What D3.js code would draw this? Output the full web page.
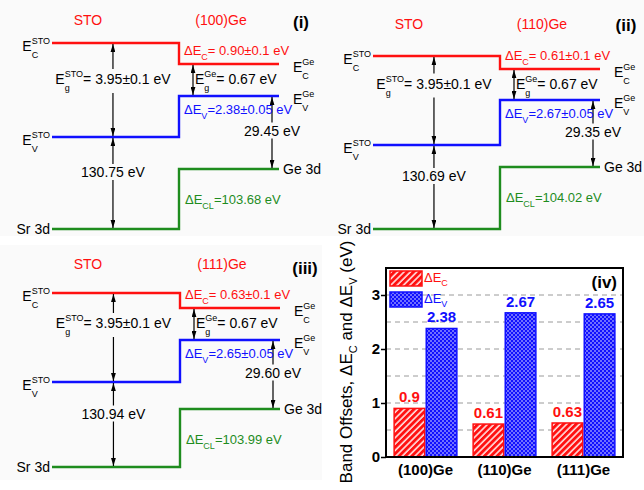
<!DOCTYPE html>
<html>
<head>
<meta charset="utf-8">
<script src="https://cdn.jsdelivr.net/npm/d3@7"></script>
<style>
  body { margin: 0; background: #fff; }
  svg { display: block; font-family: "Liberation Sans", Arial, Helvetica, sans-serif; }
  svg text { white-space: pre; }
</style>
</head>
<body>
<div id="chart"></div>
<script>
// ---- data ----
const substrates = ['(100)Ge', '(110)Ge', '(111)Ge'];
const panelTags = ['(i)', '(ii)', '(iii)'];
const deltaEc = [0.90, 0.61, 0.63];
const deltaEv = [2.38, 2.67, 2.65];
const deltaEcErr = ['0.1', '0.1', '0.1'];
const deltaEvErr = ['0.05', '0.05', '0.05'];
const gapSTO = 3.95;
const gapSTOErr = '0.1';
const gapGe = 0.67;
const srCoreToVbm = [130.75, 130.69, 130.94];
const geVbmToCore = [29.45, 29.35, 29.60];
const deltaEcl = [103.68, 104.02, 103.99];
const yTicks = [0, 1, 2, 3];

// ---- layout (schematic diagrams are not to scale) ----
const W = 644, H = 490;
const RED = '#ff1010', BLUE = '#1010ff', GREEN = '#1e8c1e', PANEL_BG = '#fafafa';
const panels = [
    { bg: [0, 0, 322, 236], left: 52, step: 179, right: 279, levels: [43, 64, 96, 137, 169, 229], titleY: 25, tag: [301, 28] },
    { bg: [322, 0, 322, 236], left: 373, step: 500, right: 600, levels: [56, 69, 100, 145, 167, 229], titleY: 29, tag: [626, 31] },
    { bg: [0, 245, 322, 235], left: 52, step: 180, right: 280, levels: [293, 308, 340, 382, 409, 467], titleY: 269, tag: [305, 274] }
];

const svg = d3.select('#chart').append('svg')
    .attr('width', W)
    .attr('height', H);

const defs = svg.append('defs');
defs.append('marker')
    .attr('id', 'arrow')
    .attr('viewBox', '0 0 10 6')
    .attr('refX', 10).attr('refY', 3)
    .attr('markerUnits', 'userSpaceOnUse')
    .attr('markerWidth', 8).attr('markerHeight', 5)
    .attr('orient', 'auto-start-reverse')
    .append('path').attr('d', 'M0,0L10,3L0,6Z').attr('fill', '#000');

const hatch = defs.append('pattern')
    .attr('id', 'hatch')
    .attr('patternUnits', 'userSpaceOnUse')
    .attr('width', 4.5).attr('height', 4.5)
    .attr('patternTransform', 'rotate(45)');
hatch.append('rect').attr('width', 4.5).attr('height', 4.5).attr('fill', RED);
hatch.append('line').attr('x1', 1).attr('y1', 0).attr('x2', 1).attr('y2', 4.5)
    .attr('stroke', '#fff').attr('stroke-width', 1.4);

const dots = defs.append('pattern')
    .attr('id', 'dots')
    .attr('patternUnits', 'userSpaceOnUse')
    .attr('width', 4).attr('height', 4);
dots.append('rect').attr('width', 4).attr('height', 4).attr('fill', BLUE);
[[1, 1], [3, 3]].forEach(([cx, cy]) => {
    dots.append('circle').attr('cx', cx).attr('cy', cy).attr('r', 0.75).attr('fill', '#fff');
});

// text with sub/superscripts laid out piece by piece
function richText(parent, x, y, parts, opt) {
    const size = opt.size;
    const small = opt.small || Math.round(size * 0.66);
    const g = parent.append('g')
        .attr('fill', opt.color || '#000')
        .style('font-size', size + 'px')
        .style('font-weight', opt.bold ? 'bold' : 'normal');
    let cx = 0;
    parts.forEach(p => {
        if (typeof p === 'string') {
            const t = g.append('text').attr('x', cx).attr('y', 0).text(p);
            cx += t.node().getComputedTextLength();
        } else {
            let w = 0;
            if (p.sub) {
                const t = g.append('text').attr('x', cx).attr('y', opt.subDy || size * 0.45)
                    .style('font-size', small + 'px').text(p.sub);
                w = Math.max(w, t.node().getComputedTextLength());
            }
            if (p.sup) {
                const t = g.append('text').attr('x', cx).attr('y', opt.supDy || -size * 0.5)
                    .style('font-size', small + 'px').text(p.sup);
                w = Math.max(w, t.node().getComputedTextLength());
            }
            cx += w;
        }
    });
    const shift = opt.anchor === 'middle' ? -cx / 2 : opt.anchor === 'end' ? -cx : 0;
    g.attr('transform', `translate(${x + shift},${y})`);
    if (opt.knockout) {
        const b = g.node().getBBox();
        g.insert('rect', ':first-child')
            .attr('x', b.x - 1).attr('y', b.y)
            .attr('width', b.width + 2).attr('height', b.height)
            .attr('fill', opt.knockout);
    }
    return g;
}

// ---- band diagrams (i)-(iii) ----
panels.forEach((p, i) => {
    const ev = deltaEv[i];
    // energies relative to STO valence band max
    const energies = [gapSTO, ev + gapGe, ev, 0, ev - geVbmToCore[i], -srCoreToVbm[i]];
    const y = d3.scaleLinear().domain(energies).range(p.levels);
    const [eCsto, eCge, eVge, eVsto, eGe3d, eSr3d] = energies;

    const g = svg.append('g');
    g.append('rect')
        .attr('x', p.bg[0]).attr('y', p.bg[1])
        .attr('width', p.bg[2]).attr('height', p.bg[3])
        .attr('fill', PANEL_BG);

    const step = (a, b) => `M${p.left},${y(a)}H${p.step}V${y(b)}H${p.right}`;
    [[eCsto, eCge, RED], [eVsto, eVge, BLUE], [eSr3d, eGe3d, GREEN]].forEach(([a, b, c]) => {
        g.append('path').attr('d', step(a, b))
            .attr('fill', 'none').attr('stroke', c).attr('stroke-width', 2.4);
    });

    const xSto = p.left + 0.48 * (p.step - p.left);
    const xGap = p.step + 14;
    const xCore = p.right - 7;
    const arrow = (x, a, b) => g.append('line')
        .attr('x1', x).attr('x2', x)
        .attr('y1', y(a) + 1).attr('y2', y(b) - 1)
        .attr('stroke', '#000').attr('stroke-width', 1.2)
        .attr('marker-start', 'url(#arrow)').attr('marker-end', 'url(#arrow)');
    arrow(xSto, eCsto, eVsto);
    arrow(xSto, eVsto, eSr3d);
    arrow(xGap, eCge, eVge);
    arrow(xCore, eVge, eGe3d);

    // headings
    g.append('text').attr('x', p.left + 36).attr('y', p.titleY)
        .attr('text-anchor', 'middle').attr('fill', RED).style('font-size', '14px').text('STO');
    g.append('text').attr('x', p.step + 42).attr('y', p.titleY)
        .attr('text-anchor', 'middle').attr('fill', RED).style('font-size', '14px').text(substrates[i]);
    g.append('text').attr('x', p.tag[0]).attr('y', p.tag[1])
        .attr('text-anchor', 'middle').style('font-size', '17px').style('font-weight', 'bold')
        .text(panelTags[i]);

    // level names
    const lbl = { size: 14, small: 9, subDy: 7, supDy: -7 };
    richText(g, p.left - 2, y(eCsto) + 8, ['E', { sub: 'C', sup: 'STO' }], { ...lbl, anchor: 'end' });
    richText(g, p.left - 2, y(eVsto) + 8, ['E', { sub: 'V', sup: 'STO' }], { ...lbl, anchor: 'end' });
    richText(g, p.left - 2, y(eSr3d) + 5, ['Sr 3d'], { ...lbl, anchor: 'end' });
    richText(g, p.right + 14, y(eCge) + 8, ['E', { sub: 'C', sup: 'Ge' }], lbl);
    richText(g, p.right + 14, y(eVge) + 8, ['E', { sub: 'V', sup: 'Ge' }], lbl);
    richText(g, p.right + 4, y(eGe3d) + 5, ['Ge 3d'], lbl);

    // gaps and offsets
    const gapMid = (y(eCge) + y(eVge)) / 2 + 4;
    richText(g, xSto, gapMid, ['E', { sub: 'g', sup: 'STO' }, `= ${gapSTO.toFixed(2)}±${gapSTOErr} eV`],
        { ...lbl, anchor: 'middle', knockout: PANEL_BG });
    richText(g, xGap + 2, gapMid, ['E', { sub: 'g', sup: 'Ge' }, `= ${gapGe.toFixed(2)} eV`], lbl);
    richText(g, p.step + 5, y(eCge) - 9, ['ΔE', { sub: 'C' }, `= ${deltaEc[i].toFixed(2)}±${deltaEcErr[i]} eV`],
        { size: 13, small: 9, subDy: 5, color: RED });
    richText(g, p.step + 5, y(eVge) + 18, ['ΔE', { sub: 'V' }, `=${ev.toFixed(2)}±${deltaEvErr[i]} eV`],
        { size: 13, small: 9, subDy: 5, color: BLUE });
    richText(g, xCore, (y(eVge) + y(eGe3d)) / 2 + 3, [`${geVbmToCore[i].toFixed(2)} eV`],
        { ...lbl, anchor: 'middle', knockout: PANEL_BG });
    richText(g, xSto, (y(eVsto) + y(eSr3d)) / 2 - 6, [`${srCoreToVbm[i].toFixed(2)} eV`],
        { ...lbl, anchor: 'middle', knockout: PANEL_BG });
    richText(g, p.step + 6, y(eGe3d) + 35, ['ΔE', { sub: 'CL' }, `=${deltaEcl[i].toFixed(2)} eV`],
        { size: 13, small: 9, subDy: 5, color: GREEN });
});

// ---- bar chart (iv) ----
const frame = { left: 386, right: 623, top: 268, bottom: 457 };
const yb = d3.scaleLinear().domain([0, 3.5]).range([frame.bottom, frame.top]);
const xb = d3.scaleBand().domain(substrates).range([frame.left, frame.right]).padding(0);
const xs = d3.scaleBand().domain(['Ec', 'Ev']).range([0, xb.bandwidth()])
    .paddingInner(0).paddingOuter(0.23);

const bc = svg.append('g');

bc.append('g')
    .selectAll('line')
    .data(d3.range(0.5, 3.01, 0.5))
    .join('line')
    .attr('x1', frame.left).attr('x2', frame.right)
    .attr('y1', d => yb(d)).attr('y2', d => yb(d))
    .attr('stroke', '#9a9a9a').attr('stroke-width', 1)
    .attr('stroke-dasharray', '5,4');

const rows = substrates.map((s, i) => ({ s, ec: deltaEc[i], ev: deltaEv[i] }));
const groups = bc.selectAll('g.grp').data(rows).join('g')
    .attr('class', 'grp')
    .attr('transform', d => `translate(${xb(d.s)},0)`);

const bars = [
    { key: 'Ec', val: d => d.ec, fill: 'url(#hatch)', color: RED },
    { key: 'Ev', val: d => d.ev, fill: 'url(#dots)', color: BLUE }
];
bars.forEach(b => {
    groups.append('rect')
        .attr('x', xs(b.key) + 0.75)
        .attr('width', xs.bandwidth() - 1.5)
        .attr('y', d => yb(b.val(d)))
        .attr('height', d => yb(0) - yb(b.val(d)))
        .attr('fill', b.fill)
        .attr('stroke', b.color).attr('stroke-width', 1.5);
    groups.append('text')
        .attr('x', xs(b.key) + xs.bandwidth() / 2)
        .attr('y', d => yb(b.val(d)) - 6)
        .attr('text-anchor', 'middle')
        .attr('fill', b.color)
        .style('font-size', '15px').style('font-weight', 'bold')
        .text(d => String(b.val(d)));
});

bc.append('rect')
    .attr('x', frame.left).attr('y', frame.top)
    .attr('width', frame.right - frame.left).attr('height', frame.bottom - frame.top)
    .attr('fill', 'none').attr('stroke', '#000').attr('stroke-width', 2);

const yAxis = bc.append('g')
    .attr('transform', `translate(${frame.left},0)`)
    .call(d3.axisLeft(yb).tickValues(yTicks).tickSize(5).tickPadding(1).tickFormat(d3.format('d')));
yAxis.select('.domain').remove();
yAxis.selectAll('line').attr('stroke-width', 1.5);
yAxis.selectAll('text')
    .attr('fill', '#000')
    .style('font-size', '15px').style('font-weight', 'bold')
    .style('font-family', '"Liberation Sans", Arial, sans-serif');

const xAxis = bc.append('g')
    .attr('transform', `translate(0,${frame.bottom})`)
    .call(d3.axisBottom(xb).tickSize(0).tickPadding(7));
xAxis.select('.domain').remove();
xAxis.selectAll('text')
    .attr('fill', '#000')
    .style('font-size', '15px').style('font-weight', 'bold')
    .style('font-family', '"Liberation Sans", Arial, sans-serif');

// legend
const legend = bc.append('g');
[['C', 'url(#hatch)', RED, 271, 282], ['V', 'url(#dots)', BLUE, 292, 303]].forEach(([sub, fill, c, top, base]) => {
    legend.append('rect')
        .attr('x', frame.left + 4).attr('y', top)
        .attr('width', 32).attr('height', 15)
        .attr('fill', fill).attr('stroke', c).attr('stroke-width', 1.5);
    richText(legend, frame.left + 38, base, ['ΔE', { sub }], { size: 13, small: 9, subDy: 4, color: c });
});

bc.append('text')
    .attr('x', 617).attr('y', 288)
    .attr('text-anchor', 'end')
    .style('font-size', '17px').style('font-weight', 'bold')
    .text('(iv)');

const yTitle = bc.append('g').attr('transform', 'translate(352,362) rotate(-90)');
richText(yTitle, 0, 0, ['Band Offsets, ΔE', { sub: 'C' }, ' and ΔE', { sub: 'V' }, ' (eV)'],
    { size: 17, small: 11, subDy: 5, anchor: 'middle' });
</script>
</body>
</html>
